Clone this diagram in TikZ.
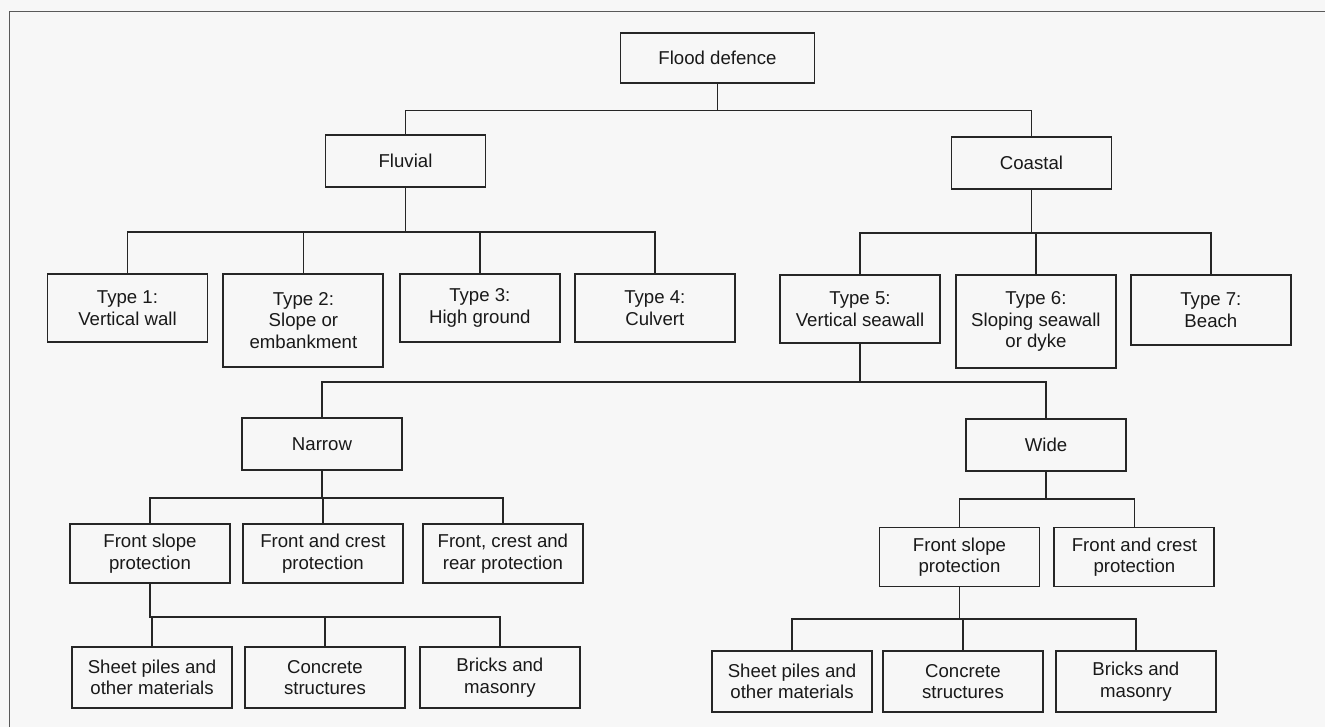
\documentclass[tikz,border=0pt]{standalone}
\usepackage{fontspec}
\setmainfont{Liberation Sans}
\usetikzlibrary{positioning}

\begin{document}
\begin{tikzpicture}[
  box/.style={draw=black!85, line width=1.1pt, align=center, minimum width=3.2cm, minimum height=1.04cm, inner sep=1pt, font=\fontsize{10.6}{12.3}\selectfont, text=black!90},
  typebox/.style={box, minimum height=1.36cm},
  tallbox/.style={box, minimum height=1.86cm},
  protbox/.style={box, minimum height=1.18cm},
  matbox/.style={box, minimum height=1.22cm},
  link/.style={draw=black!85, line width=0.9pt},
  frame/.style={draw=black!65, line width=0.9pt}
]
  \useasboundingbox[fill=black!3] (0,0) rectangle (26.5,-14.54);
  \draw[frame] (0.186,-14.54) -- (0.186,-0.234) -- (26.5,-0.234);

  \node[box, minimum width=3.88cm, minimum height=1.0cm] (flood) at (14.35,-1.16) {Flood defence};
  \node[box] (fluvial) at (8.11,-3.22) {Fluvial};
  \node[box] (coastal) at (20.63,-3.26) {Coastal};

  % fluvial types
  \node[typebox] (type1) at (2.55,-6.16) {Type 1:\\Vertical wall};
  \node[tallbox, below right=0cm and 0.28cm of type1.north east] (type2) {Type 2:\\Slope or\\embankment};
  \node[typebox, below right=0cm and 0.29cm of type2.north east] (type3) {Type 3:\\High ground};
  \node[typebox, below right=0cm and 0.26cm of type3.north east] (type4) {Type 4:\\Culvert};

  % coastal types
  \node[typebox] (type5) at (17.2,-6.18) {Type 5:\\Vertical seawall};
  \node[tallbox, below right=0cm and 0.28cm of type5.north east] (type6) {Type 6:\\Sloping seawall\\or dyke};
  \node[typebox, minimum height=1.4cm, below right=0cm and 0.26cm of type6.north east] (type7) {Type 7:\\Beach};

  \node[box] (narrow) at (6.44,-8.88) {Narrow};
  \node[box] (wide) at (20.92,-8.9) {Wide};

  % narrow branch
  \node[protbox] (nfront) at (3.0,-11.07) {Front slope\\protection};
  \node[protbox, right=0.22cm of nfront] (ncrest) {Front and crest\\protection};
  \node[protbox, right=0.36cm of ncrest] (nrear) {Front, crest and\\rear protection};
  \node[matbox] (nsheet) at (3.04,-13.55) {Sheet piles and\\other materials};
  \node[matbox, right=0.22cm of nsheet] (nconc) {Concrete\\structures};
  \node[matbox, right=0.26cm of nconc] (nbrick) {Bricks and\\masonry};

  % wide branch
  \node[protbox] (wfront) at (19.19,-11.14) {Front slope\\protection};
  \node[protbox, right=0.26cm of wfront] (wcrest) {Front and crest\\protection};
  \node[matbox] (wsheet) at (15.84,-13.63) {Sheet piles and\\other materials};
  \node[matbox, right=0.18cm of wsheet] (wconc) {Concrete\\structures};
  \node[matbox, right=0.22cm of wconc] (wbrick) {Bricks and\\masonry};

  \draw[link] (flood.south) -- ++(0,-0.53) -| (fluvial.north);
  \draw[link] (flood.south) -- ++(0,-0.53) -| (coastal.north);

  \draw[link] (fluvial.south) -- ++(0,-0.875) -| (type1.north);
  \draw[link] (fluvial.south) -- ++(0,-0.875) -| (type2.north);
  \draw[link] (fluvial.south) -- ++(0,-0.875) -| (type3.north);
  \draw[link] (fluvial.south) -- ++(0,-0.875) -| (type4.north);

  \draw[link] (coastal.south) -- ++(0,-0.86) -| (type5.north);
  \draw[link] (coastal.south) -- ++(0,-0.86) -| (type6.north);
  \draw[link] (coastal.south) -- ++(0,-0.86) -| (type7.north);

  \draw[link] (type5.south) -- ++(0,-0.76) -| (narrow.north);
  \draw[link] (type5.south) -- ++(0,-0.76) -| (wide.north);

  \draw[link] (narrow.south) -- ++(0,-0.54) -| (nfront.north);
  \draw[link] (narrow.south) -- ++(0,-0.54) -| (ncrest.north);
  \draw[link] (narrow.south) -- ++(0,-0.54) -| (nrear.north);
  \draw[link] (wide.south) -- ++(0,-0.54) -| (wfront.north);
  \draw[link] (wide.south) -- ++(0,-0.54) -| (wcrest.north);

  \draw[link] (nfront.south) -- ++(0,-0.66) -| (nsheet.north);
  \draw[link] (nfront.south) -- ++(0,-0.66) -| (nconc.north);
  \draw[link] (nfront.south) -- ++(0,-0.66) -| (nbrick.north);
  \draw[link] (wfront.south) -- ++(0,-0.63) -| (wsheet.north);
  \draw[link] (wfront.south) -- ++(0,-0.63) -| (wconc.north);
  \draw[link] (wfront.south) -- ++(0,-0.63) -| (wbrick.north);
\end{tikzpicture}
\end{document}
